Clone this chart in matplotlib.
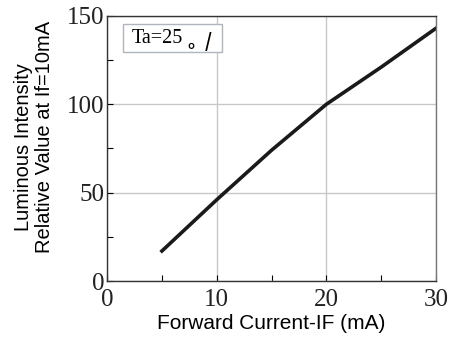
import numpy as np
import matplotlib.pyplot as plt
from matplotlib.patches import Rectangle

current = [5, 10, 15, 20, 25, 30]
intensity = [17, 46, 74, 100, 121, 143]

x_ticks = [0, 10, 20, 30]
y_ticks = [0, 50, 100, 150]

fig = plt.figure(figsize=(4.5, 3.37), dpi=100)
ax = fig.add_axes([0.238, 0.166, 0.731, 0.787])

ax.plot(current, intensity, color='#1a1a1a', linewidth=2.6)

ax.set_xlim(0, 30)
ax.set_ylim(0, 150)
ax.set_xticks(x_ticks)
ax.set_yticks(y_ticks)
ax.set_xticks([5, 15, 25], minor=True)
ax.set_yticks([25, 75, 125], minor=True)
ax.grid(True, which='major', color='#c8c8cc', linewidth=1)
ax.tick_params(which='both', direction='in', length=4, width=0.8,
               labelsize=18)
ax.tick_params(axis='x', pad=6)
ax.tick_params(axis='y', pad=2)
for lab in ax.get_xticklabels() + ax.get_yticklabels():
    lab.set_family('Liberation Serif')
    lab.set_color('#222222')

for s in ax.spines.values():
    s.set_color('#333333')
    s.set_linewidth(1.0)
ax.spines['right'].set_color('#777777')

ax.set_xlabel('Forward Current-IF (mA)', family='Liberation Sans',
              fontsize=15, labelpad=2)

# two-line y label
fig.text(24 / 450, 1 - 147 / 337, 'Luminous Intensity', rotation=90,
         family='Liberation Sans', fontsize=14.5, ha='center', va='center')
fig.text(45 / 450, 1 - 137 / 337, 'Relative Value at If=10mA', rotation=90,
         family='Liberation Sans', fontsize=14.5, ha='center', va='center')

# condition box
ax.add_patch(Rectangle((0.0486, 0.864), 0.301, 0.106, transform=ax.transAxes,
                       facecolor='white', edgecolor='#b0b4bc', linewidth=1,
                       zorder=3))
ax.text(0.076, 0.915, 'Ta=25', transform=ax.transAxes,
        family='Liberation Serif', fontsize=14.5, va='center', ha='left',
        zorder=4)
ax.text(0.245, 0.905, '。/', transform=ax.transAxes,
        family=['Noto Sans CJK SC', 'DejaVu Sans'], fontsize=13,
        fontweight='bold', va='center', ha='left', zorder=4)

fig.savefig('out.png', dpi=100)
